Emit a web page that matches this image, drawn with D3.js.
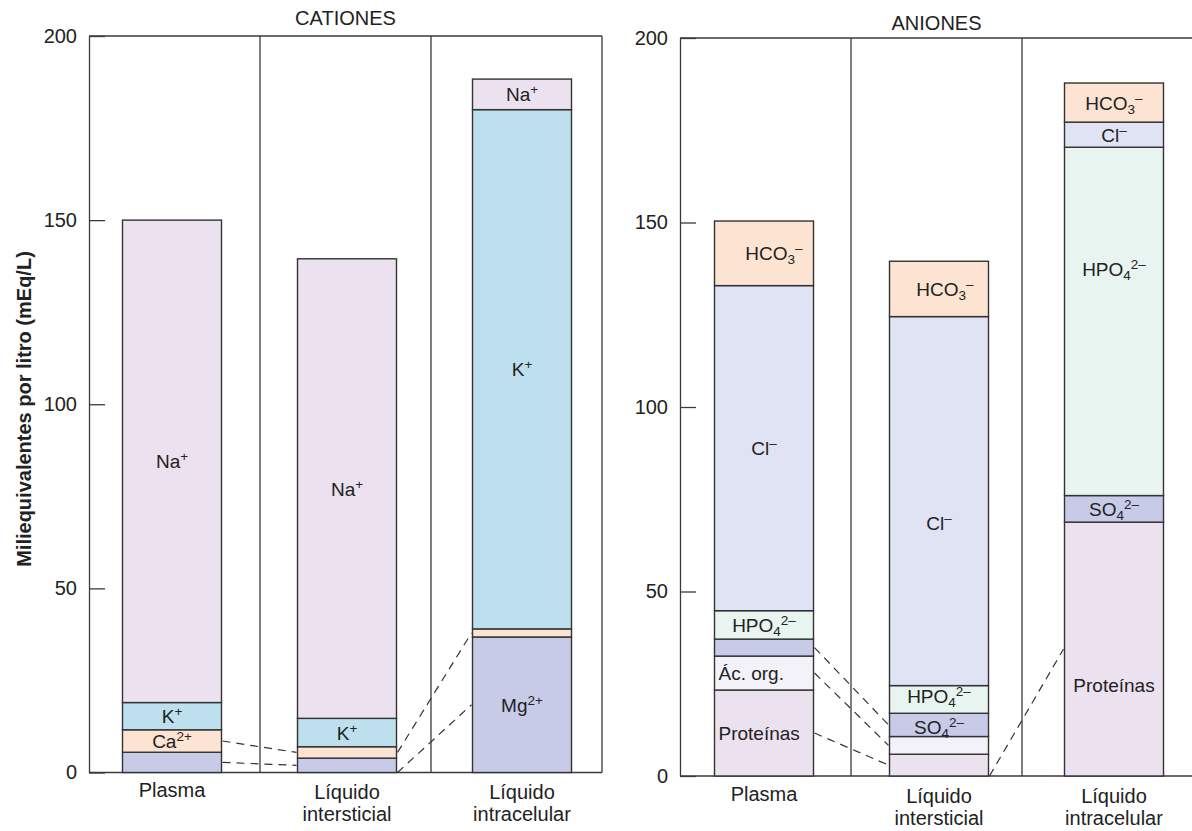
<!DOCTYPE html>
<html><head><meta charset="utf-8">
<script src="https://cdn.jsdelivr.net/npm/d3@7"></script>
<style>
body{margin:0;background:#fff;}
svg{display:block;font-family:"Liberation Sans",Arial,Helvetica,sans-serif;}
</style></head>
<body><svg id="c" width="1192" height="831"></svg>
<script>
// ---------- DATA ----------
const categories = ["Plasma", "Líquido intersticial", "Líquido intracelular"];
const categoryLines = [["Plasma"], ["Líquido", "intersticial"], ["Líquido", "intracelular"]];
const yTicks = [0, 50, 100, 150, 200];

// Cations (mEq/L), stacked bottom -> top
const cationKeys = ["Mg", "Ca", "K", "Na"];
const mgValues = [5.5, 3.9, 36.8];
const caValues = [6.1, 3.1, 2.2];
const kValues  = [7.4, 7.7, 141.0];
const naValues = [131.0, 124.8, 8.3];

// Anions (mEq/L), stacked bottom -> top
const anionKeys = ["Prot", "Ac", "SO4", "HPO4", "Cl", "HCO3"];
const protValues  = [23.3, 5.9, 68.8];
const acOrgValues = [9.2, 4.8, 0];
const so4Values   = [4.6, 6.3, 7.2];
const hpo4Values  = [7.7, 7.5, 94.4];
const clValues    = [88.1, 100.0, 6.8];
const hco3Values  = [17.5, 15.0, 10.6];

// ---------- STYLE / LABEL CONFIG ----------
const colors = {
  Na: "#ebe1ef", K: "#bddfee", Ca: "#fde3d1", Mg: "#c7cbe8",
  HCO3: "#fde3d1", Cl: "#e0e3f3", HPO4: "#e7f4ef", SO4: "#c7cbe8", Ac: "#f2f2f8", Prot: "#ebe1ef"
};
const labelParts = {
  Na: [["Na","n"],["+","sup"]], K: [["K","n"],["+","sup"]], Ca: [["Ca","n"],["2+","sup"]], Mg: [["Mg","n"],["2+","sup"]],
  HCO3: [["HCO","n"],["3","sub"],["–","sup"]], Cl: [["Cl","n"],["–","sup"]],
  HPO4: [["HPO","n"],["4","sub"],["2–","sup"]], SO4: [["SO","n"],["4","sub"],["2–","sup"]],
  Ac: [["Ác. org.","n"]], Prot: [["Proteínas","n"]]
};
const cationLabels = [
  [{k:"Na"},{k:"K"},{k:"Ca"}],
  [{k:"Na"},{k:"K"}],
  [{k:"Na"},{k:"K"},{k:"Mg"}]
];
const anionLabels = [
  [{k:"HCO3",dx:10},{k:"Cl"},{k:"HPO4"},{k:"Ac",align:"left"},{k:"Prot",align:"left"}],
  [{k:"HCO3",dx:6},{k:"Cl",frac:0.44},{k:"HPO4",frac:0.62},{k:"SO4",frac:0.42}],
  [{k:"HCO3"},{k:"Cl"},{k:"HPO4",frac:0.65},{k:"SO4"},{k:"Prot",frac:0.36}]
];
const cationLinks = [[0,"Ca",1,"Ca"],[0,"Mg",1,"Mg"],[1,"Ca",2,"Ca"],[1,null,2,"Mg"]];
const anionLinks  = [[0,"SO4",1,"SO4"],[0,"Ac",1,"Ac"],[0,"Prot",1,"Prot"],[1,null,2,"Prot"]];

// ---------- DRAW ----------
const svg = d3.select("#c");
const FONT = 20;

function buildRows(keys, arrays){
  return categories.map((c,i)=>{ const r={cat:c}; keys.forEach((k,j)=>r[k]=arrays[j][i]); return r; });
}

function drawPanel(opt){
  const g = svg.append("g");
  const y = d3.scaleLinear().domain([0,200]).range([opt.y0, opt.y200]);
  const xSec = d3.scaleBand().domain(categories).range([opt.x0, opt.x1]);
  const xBar = d3.scalePoint().domain(categories).range(opt.barCenters);
  const bw = opt.barWidth;
  const rows = buildRows(opt.keys, opt.arrays);
  const series = d3.stack().keys(opt.keys)(rows);
  const segOf = (ci,k)=>{ const s = series.find(d=>d.key===k); return s[ci]; };

  const fr = g.append("g").attr("stroke","#3a3a3a").attr("stroke-width",1.3).attr("fill","none");
  fr.append("line").attr("x1",opt.x0).attr("x2",opt.x1).attr("y1",y(200)).attr("y2",y(200));
  fr.append("line").attr("x1",opt.x0).attr("x2",opt.x1).attr("y1",y(0)).attr("y2",y(0));
  fr.append("line").attr("x1",opt.x1).attr("x2",opt.x1).attr("y1",y(0)).attr("y2",y(200));
  categories.slice(1).forEach(c=>{
    fr.append("line").attr("x1",xSec(c)).attr("x2",xSec(c)).attr("y1",y(0)).attr("y2",y(200));
  });

  const ax = g.append("g").attr("transform",`translate(${opt.x0},0)`)
    .call(d3.axisLeft(y).tickValues(yTicks).tickSize(-16).tickSizeOuter(0).tickPadding(12).tickFormat(d3.format("d")));
  ax.selectAll("path,line").attr("stroke","#3a3a3a").attr("stroke-width",1.3);
  ax.selectAll("text").attr("font-size",FONT).attr("fill","#222").attr("font-family","Liberation Sans, Arial, sans-serif");

  series.forEach(s=>{
    g.append("g").selectAll("rect").data(s.filter(d=>d[1]-d[0]>0)).join("rect")
      .attr("x",d=>xBar(d.data.cat)-bw/2).attr("width",bw)
      .attr("y",d=>y(d[1])).attr("height",d=>y(d[0])-y(d[1]))
      .attr("fill",colors[s.key]).attr("stroke","#333").attr("stroke-width",1.4);
  });

  opt.links.forEach(([fi,fk,ti,tk])=>{
    const fy = fk ? (y(segOf(fi,fk)[0])+y(segOf(fi,fk)[1]))/2 : y(0);
    const ty = tk ? (y(segOf(ti,tk)[0])+y(segOf(ti,tk)[1]))/2 : y(0);
    g.append("line")
      .attr("x1",xBar(categories[fi])+bw/2+1).attr("y1",fy)
      .attr("x2",xBar(categories[ti])-bw/2-1).attr("y2",ty)
      .attr("stroke","#333").attr("stroke-width",1.2).attr("stroke-dasharray","8,6");
  });

  opt.labels.forEach((list,ci)=>{
    list.forEach(L=>{
      const sg = segOf(ci,L.k);
      const f = L.frac==null?0.5:L.frac;
      const yy = y(sg[0]+(sg[1]-sg[0])*f);
      const left = L.align==="left";
      const xx = left ? xBar(categories[ci])-bw/2+4 : xBar(categories[ci])+(L.dx||0);
      const t = g.append("text").attr("x",xx).attr("y",yy+7)
        .attr("text-anchor",left?"start":"middle").attr("font-size",19).attr("fill","#222");
      let state="n";
      labelParts[L.k].forEach(([txt,mode])=>{
        const ts = t.append("tspan").text(txt);
        let dy=0;
        if(mode==="sup"){ dy = state==="sub"? -11 : -7; ts.attr("font-size",13.5); }
        else if(mode==="sub"){ dy = 4; ts.attr("font-size",13.5); }
        else { dy = state==="sup"?7: state==="sub"?-4:0; }
        if(dy) ts.attr("dy",dy);
        state=mode;
      });
    });
  });

  categoryLines.forEach((lines,ci)=>{
    const t = g.append("text").attr("text-anchor","middle").attr("font-size",FONT).attr("fill","#222");
    lines.forEach((ln,li)=>{
      t.append("tspan").attr("x",xBar(categories[ci])).attr("y",opt.catY + li*22 + (lines.length>1?opt.twoLineShift:0)).text(ln);
    });
  });

  g.append("text").attr("x",xSec(categories[1])+xSec.bandwidth()/2).attr("y",opt.titleY)
    .attr("text-anchor","middle").attr("font-size",20).attr("fill","#222").text(opt.title);
  return g;
}

drawPanel({
  title:"CATIONES", titleY:25, x0:89, x1:602, y0:772.5, y200:36,
  barCenters:[172,522], barWidth:99, keys:cationKeys, arrays:[mgValues,caValues,kValues,naValues],
  labels:cationLabels, links:cationLinks, catY:797, twoLineShift:2
});
drawPanel({
  title:"ANIONES", titleY:30, x0:680, x1:1193, y0:776, y200:38,
  barCenters:[764,1114], barWidth:99, keys:anionKeys, arrays:[protValues,acOrgValues,so4Values,hpo4Values,clValues,hco3Values],
  labels:anionLabels, links:anionLinks, catY:801, twoLineShift:2
});

svg.append("text").attr("transform","translate(31,409) rotate(-90)")
  .attr("text-anchor","middle").attr("font-size",20).attr("font-weight","bold").attr("fill","#222")
  .text("Miliequivalentes por litro (mEq/L)");
</script></body></html>
